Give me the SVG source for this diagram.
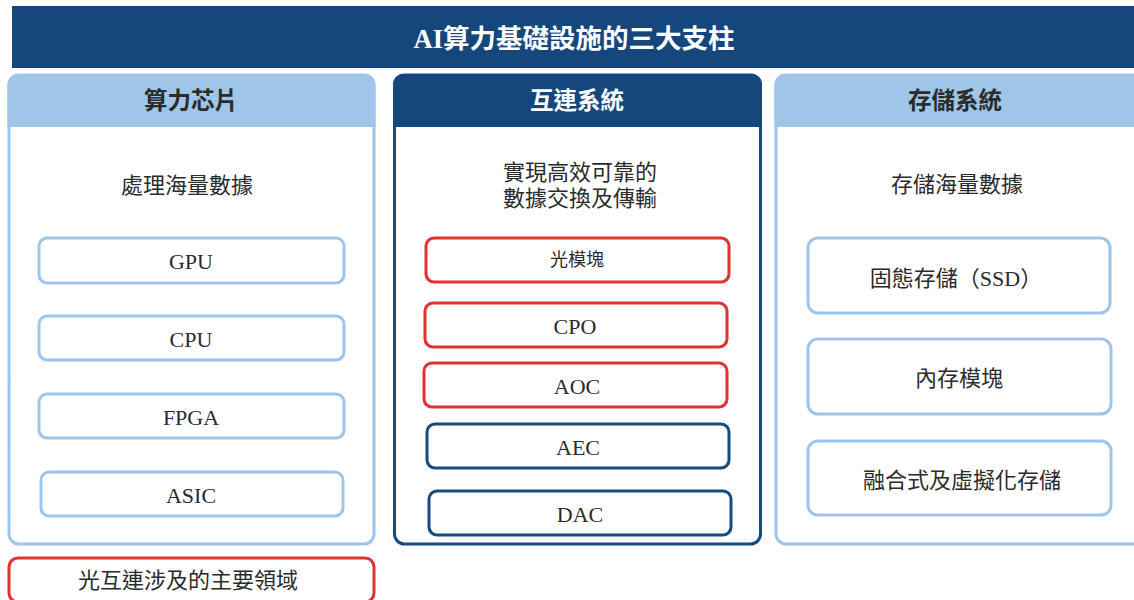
<svg xmlns="http://www.w3.org/2000/svg" width="1134" height="600" viewBox="0 0 1134 600">
<style>
text{font-family:"Liberation Serif","Noto Sans CJK TC",serif;fill:#2b2b2b;text-anchor:middle;dominant-baseline:central}
.lb{fill:none;stroke:#9fc5e8;stroke-width:3}
.db{fill:none;stroke:#164a80;stroke-width:3}
.rd{fill:none;stroke:#e03232;stroke-width:3}
.t{font-size:22px}
.h{font-size:23.5px;font-weight:bold}
</style>
<rect width="1134" height="600" fill="#fff"/>
<g id="title">
<rect x="12" y="6" width="1122" height="62" fill="#15477d"/>
<text x="574" y="39" style="font-size:26.5px;font-weight:bold;fill:#fff">AI算力基礎設施的三大支柱</text>
</g>
<g id="panel-compute">
<rect x="9" y="75" width="365" height="469" rx="10" class="lb"/>
<path d="M7.5 127 V84 a10 10 0 0 1 10 -10 H365.5 a10 10 0 0 1 10 10 V127 Z" fill="#9fc5e8"/>
<text x="191" y="101" class="h">算力芯片</text>
<text x="187" y="185" class="t">處理海量數據</text>
</g>
<g id="gpu"><rect x="39" y="238" width="305" height="45" rx="8" class="lb"/><text x="191" y="261" class="t">GPU</text></g>
<g id="cpu"><rect x="39" y="316" width="305" height="44" rx="8" class="lb"/><text x="191" y="339" class="t">CPU</text></g>
<g id="fpga"><rect x="39" y="394" width="305" height="44" rx="8" class="lb"/><text x="191" y="417" class="t">FPGA</text></g>
<g id="asic"><rect x="41" y="472" width="302" height="44" rx="8" class="lb"/><text x="191" y="495" class="t">ASIC</text></g>
<g id="panel-interconnect">
<rect x="394.5" y="75" width="366" height="469" rx="10" class="db"/>
<path d="M393 127 V84 a10 10 0 0 1 10 -10 H752 a10 10 0 0 1 10 10 V127 Z" fill="#15477d"/>
<text x="577" y="101" class="h" style="fill:#fff">互連系統</text>
<text x="580" y="172" class="t">實現高效可靠的</text>
<text x="580" y="198" class="t">數據交換及傳輸</text>
</g>
<g id="optical-module"><rect x="426" y="238" width="303" height="44" rx="8" class="rd"/><text x="577" y="260" style="font-size:18px">光模塊</text></g>
<g id="cpo"><rect x="425" y="303" width="302" height="44" rx="8" class="rd"/><text x="575" y="326" class="t">CPO</text></g>
<g id="aoc"><rect x="424" y="363" width="303" height="44" rx="8" class="rd"/><text x="577" y="386" class="t">AOC</text></g>
<g id="aec"><rect x="427" y="424" width="302" height="44" rx="8" class="db"/><text x="578" y="447" class="t">AEC</text></g>
<g id="dac"><rect x="429" y="491" width="302" height="44" rx="8" class="db"/><text x="580" y="514" class="t">DAC</text></g>
<g id="panel-storage">
<rect x="776" y="75" width="370" height="469" rx="10" class="lb"/>
<path d="M774.5 127 V84 a10 10 0 0 1 10 -10 H1140 V127 Z" fill="#9fc5e8"/>
<text x="955" y="101" class="h">存儲系統</text>
<text x="957" y="184" class="t">存儲海量數據</text>
</g>
<g id="ssd"><rect x="808" y="238" width="302" height="75" rx="10" class="lb"/><text x="956" y="278" class="t">固態存儲（SSD）</text></g>
<g id="memory"><rect x="808" y="339" width="303" height="75" rx="10" class="lb"/><text x="959" y="378" class="t">內存模塊</text></g>
<g id="hybrid"><rect x="808" y="441" width="303" height="74" rx="10" class="lb"/><text x="962" y="480" class="t">融合式及虛擬化存儲</text></g>
<g id="legend">
<rect x="9" y="558" width="365" height="44" rx="9" class="rd"/>
<text x="188" y="580" class="t">光互連涉及的主要領域</text>
</g>
<g id="connectors"></g>
</svg>
